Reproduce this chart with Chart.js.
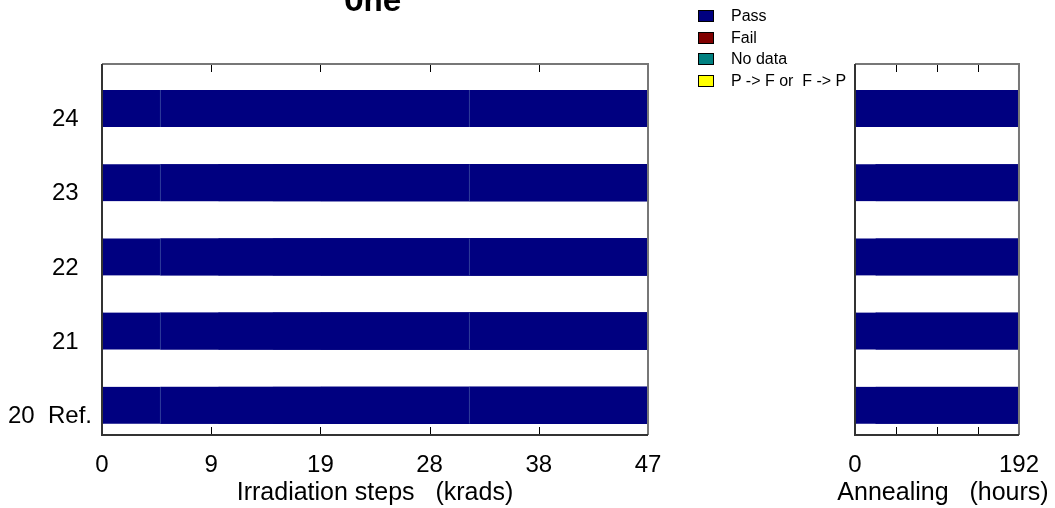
<!DOCTYPE html>
<html>
<head>
<meta charset="utf-8">
<script src="https://cdn.jsdelivr.net/npm/chart.js@4/dist/chart.umd.min.js"></script>
<style>
  html,body{margin:0;padding:0;background:#fff;}
  #wrap{position:relative;width:1055px;height:508px;overflow:hidden;font-family:"Liberation Sans",Arial,sans-serif;}
  #left{position:absolute;left:0;top:0;}
  #right{position:absolute;left:680px;top:0;}
  #title{position:absolute;left:273px;width:200px;top:-13px;text-align:center;font:bold 32px/32px "Liberation Mono","Courier New",monospace;color:#000;}
  #legend{position:absolute;left:698px;top:8px;}
  .row{position:relative;height:21.5px;font-size:16px;line-height:16px;white-space:pre;}
  .sw{position:absolute;left:0;top:2px;width:16px;height:12px;border:1px solid #000;box-sizing:border-box;}
  .lb{position:absolute;left:33px;top:0;}
</style>
</head>
<body>
<div id="wrap">
  <canvas id="left" width="680" height="508"></canvas>
  <canvas id="right" width="375" height="508"></canvas>
  <div id="title">One</div>
  <div id="legend"></div>
</div>
<script>
// rows (bottom to top)
const rowLabels=['20  Ref.','21  ','22  ','23  ','24  '];
const rowStatus=['Pass','Pass','Pass','Pass','Pass'];
// irradiation step boundaries (krads)
const irradSteps=[0,5,10,14.7,18.8,31.6,47];
const irradTicks=[0,9.4,18.8,28.2,37.6,47];
// annealing step boundaries (hours)
const annealSteps=[0,24,192];
const annealTicks=[0,48,96,144,192];
const annealLabels=['0','','','','192'];

const legendItems=[
  {label:'Pass',color:'#000080'},
  {label:'Fail',color:'#800000'},
  {label:'No data',color:'#008080'},
  {label:'P -> F or  F -> P',color:'#ffff00'}
];
const statusColor={Pass:'#000080',Fail:'#800000','No data':'#008080'};
const shownSeps=[5,31.6];

function makeLegend(){
  const box=document.getElementById('legend');
  legendItems.forEach(it=>{
    const d=document.createElement('div'); d.className='row';
    d.innerHTML=`<span class="sw" style="background:${it.color}"></span><span class="lb">${it.label}</span>`;
    box.appendChild(d);
  });
}

// each step drawn from its start to the end of the row, later steps on top (no seams)
function segData(steps){
  const out=[];
  const end=steps[steps.length-1];
  rowStatus.forEach((st,i)=>{
    for(let k=0;k<steps.length-1;k++) out.push({x:[steps[k],end],y:i,st});
  });
  return out;
}

// frame, inward ticks and the axis title (drawn here so it is not squeezed)
const framePlugin={
  id:'frame',
  afterDraw(chart,args,opts){
    const {ctx,chartArea:a,scales}=chart;
    ctx.save();
    ctx.strokeStyle='#000';ctx.lineWidth=1;
    scales.x.ticks.forEach(t=>{
      const px=Math.round(scales.x.getPixelForValue(t.value))+0.5;
      ctx.beginPath();ctx.moveTo(px,a.top);ctx.lineTo(px,a.top+8);ctx.stroke();
      ctx.beginPath();ctx.moveTo(px,a.bottom);ctx.lineTo(px,a.bottom-8);ctx.stroke();
    });
    ctx.lineWidth=2;
    ctx.strokeStyle='#777';
    ctx.beginPath();ctx.moveTo(a.left,a.top);ctx.lineTo(a.right,a.top);ctx.lineTo(a.right,a.bottom);ctx.stroke();
    ctx.strokeStyle='#333';
    ctx.beginPath();ctx.moveTo(a.left,a.top);ctx.lineTo(a.left,a.bottom);ctx.lineTo(a.right,a.bottom);ctx.stroke();
    ctx.fillStyle='#000';ctx.font='25px "Liberation Sans"';
    ctx.textAlign='center';ctx.textBaseline='middle';
    ctx.fillText(opts.text,(a.left+a.right)/2+(opts.dx||0),493);
    ctx.restore();
  }
};

function makePanel(id,steps,ticks,tickLabels,title,yWidth,padRight,showY,dx){
  return new Chart(document.getElementById(id),{
    type:'bar',
    data:{datasets:[{
      data:segData(steps),
      backgroundColor:c=>statusColor[c.raw.st],
      borderColor:c=>shownSeps.includes(c.raw.x[0])?'#3a4aa0':statusColor[c.raw.st],
      borderWidth:{left:1,right:0,top:0,bottom:0},
      borderSkipped:false,
      barThickness:37
    }]},
    options:{
      indexAxis:'y',responsive:false,animation:false,
      layout:{padding:{top:64,right:padRight,left:0,bottom:0}},
      plugins:{legend:{display:false},tooltip:{enabled:false},frame:{text:title,dx}},
      scales:{
        x:{type:'linear',min:ticks[0],max:ticks[ticks.length-1],offset:false,
          afterBuildTicks:s=>{s.ticks=ticks.map(v=>({value:v}));},
          afterFit:s=>{s.height=73;},
          grid:{display:false,drawTicks:false},border:{display:false},
          ticks:{padding:16,color:'#000',font:{family:'Liberation Sans',size:24},maxRotation:0,autoSkip:false,
            callback:(v,i)=>tickLabels[i]}
        },
        y:{type:'linear',min:-0.4,max:4.6,offset:false,
          afterBuildTicks:s=>{s.ticks=rowLabels.map((l,i)=>({value:i}));},
          afterFit:s=>{s.width=yWidth;},
          grid:{display:false,drawTicks:false},border:{display:false},
          ticks:{display:showY,padding:10,labelOffset:11,color:'#000',font:{family:'Liberation Sans',size:24},
            callback:(v,i)=>rowLabels[i]}
        }
      }
    },
    plugins:[framePlugin]
  });
}

makeLegend();
makePanel('left',irradSteps,irradTicks,irradTicks.map(v=>String(Math.round(v))),'Irradiation steps   (krads)',102,32,true,0);
makePanel('right',annealSteps,annealTicks,annealLabels,'Annealing   (hours)',175,36,false,6);
</script>
</body>
</html>
